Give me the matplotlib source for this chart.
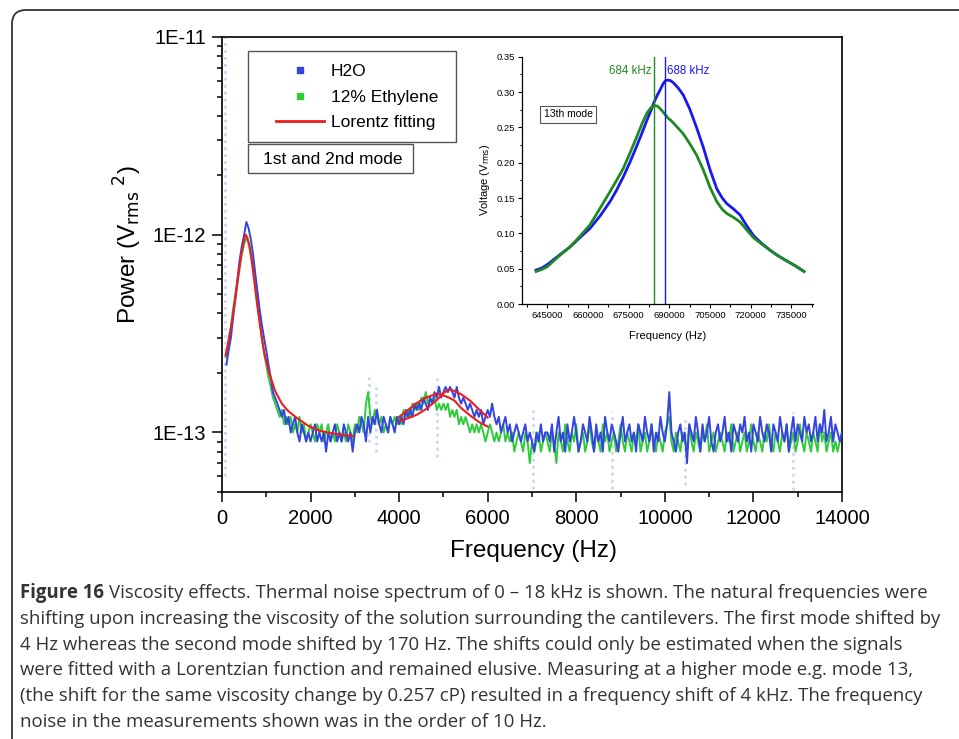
import numpy as np
import matplotlib
matplotlib.use("Agg")
import matplotlib.pyplot as plt
import matplotlib.ticker as ticker
from matplotlib.lines import Line2D
from matplotlib.patches import Rectangle, FancyBboxPatch
from matplotlib.transforms import IdentityTransform

plt.rcParams["font.family"] = ["Liberation Sans", "DejaVu Sans"]

W, H, DPI = 959, 739, 100
BLUE = "#3344e0"
GREEN = "#2ecc3a"
RED = "#ee1c1c"
FAINT = "#cdd6f0"
INS_BLUE = "#1818f0"
INS_GREEN = "#1f8a1f"

# ---- main spectrum (power in units of 1e-14 V^2), 50 Hz steps from 100 Hz ----
h2o = [
    22, 26, 30, 38, 48, 60, 75, 88, 100, 116, 108, 95, 80, 64, 52, 42, 35, 30, 26,
    22, 19, 16, 15, 14, 13, 12, 13, 11, 12, 10, 11, 12, 10, 9, 11, 10, 9, 10, 9,
    10, 11, 9, 10, 9, 10, 8, 10, 9, 10, 11, 9, 10, 9, 11, 10, 9, 10, 8, 10,
    11, 10, 12, 11, 9, 12, 10, 12, 11, 13, 11, 10, 12, 11, 10, 12, 11, 10, 12, 11,
    12, 11, 13, 12, 13, 12, 14, 13, 14, 13, 15, 14, 13, 15, 14, 16, 15, 17, 15, 16,
    17, 16, 17, 16, 15, 17, 15, 14, 15, 14, 13, 14, 13, 12, 13, 12, 13, 11, 12, 13,
    12, 14, 12, 11, 12, 10, 11, 12, 10, 11, 9, 10, 11, 10, 9, 10, 11, 9, 10, 9,
    8, 10, 9, 11, 9, 10,
    10, 9, 11, 8, 10, 12, 9, 10, 8, 11, 9, 10, 12, 10, 8, 9, 11, 10, 9, 12,
    10, 8, 11, 9, 10, 8, 12, 10, 9, 11, 10, 9, 8, 10, 12, 9, 10, 11, 9, 10,
    8, 11, 10, 9, 12, 10, 9, 11, 8, 10, 9, 12, 10, 9, 11, 16, 10, 9, 8, 10,
    11, 9, 10, 7, 11, 10, 9, 12, 10, 8, 11, 9, 10, 12, 9, 8, 10, 11, 9, 10,
    12, 9, 10, 8, 11, 10, 9, 11, 10, 12, 9, 10, 8, 11, 10, 9, 12, 10, 9, 11,
    10, 8, 11, 10, 9, 12, 10, 9, 11, 8, 10, 12, 9, 11, 10, 9, 12, 10, 11, 9,
    10, 12, 9, 11, 10, 13, 9, 10, 12, 9, 11, 10, 9, 10,
]
ethylene = [
    24, 30, 34, 42, 50, 58, 70, 80, 90, 96, 92, 82, 70, 56, 45, 37, 30, 25, 22,
    19, 17, 15, 14, 13, 12, 13, 11, 12, 11, 12, 10, 11, 10, 12, 10, 11, 9, 10, 11,
    10, 9, 11, 10, 11, 9, 10, 11, 9, 10, 9, 11, 10, 9, 10, 9, 11, 10, 9, 11,
    10, 12, 11, 10, 14, 16, 12, 11, 13, 12, 11, 12, 10, 11, 10, 12, 11, 12, 11, 12,
    11, 13, 12, 13, 12, 14, 13, 14, 13, 15, 14, 16, 14, 15, 14, 15, 13, 14, 13, 14,
    13, 14, 12, 13, 12, 13, 11, 12, 11, 12, 11, 10, 11, 10, 11, 10, 11, 10, 9, 10,
    11, 10, 9, 10, 9, 10, 11, 9, 10, 9, 10, 8, 9, 10, 9, 8, 10, 9, 7, 9,
    8, 9, 10, 8, 9, 10,
    9, 8, 10, 9, 7, 10, 9, 8, 11, 9, 8, 10, 9, 11, 8, 9, 10, 8, 9, 11,
    9, 8, 10, 9, 8, 11, 9, 10, 8, 9, 10, 8, 9, 11, 9, 8, 10, 9, 8, 10,
    9, 11, 8, 9, 10, 8, 9, 11, 9, 8, 10, 9, 8, 10, 11, 12, 9, 8, 10, 9,
    8, 10, 9, 8, 11, 9, 8, 10, 9, 8, 10, 9, 11, 8, 9, 10, 8, 9, 10, 9,
    8, 10, 9, 11, 8, 9, 10, 8, 9, 10, 8, 9, 11, 9, 8, 10, 9, 8, 10, 9,
    11, 9, 8, 10, 9, 8, 10, 9, 11, 8, 9, 10, 8, 9, 11, 9, 8, 10, 9, 8,
    10, 9, 8, 11, 9, 10, 8, 9, 10, 8, 9, 8, 9, 10,
]

# Lorentz fits (units 1e-14)
fit1_f = [80, 150, 220, 300, 370, 440, 500, 535, 570, 620, 670, 730, 790, 850, 900,
          960, 1050, 1200, 1350, 1500, 1700, 1950, 2200, 2500, 2750, 2965]
fit1_p = [24.5, 29, 36, 47, 62, 80, 95, 100, 97, 87, 74, 58, 45, 36, 30,
          25, 20.5, 16.2, 14, 12.8, 11.8, 10.8, 10.2, 9.9, 9.7, 9.6]
fit2_f = [4000, 4200, 4400, 4600, 4850, 5000, 5125, 5250, 5400, 5600, 5800, 6000]
fit2_eth = [12.0, 13.0, 14.1, 15.0, 15.7, 15.4, 15.0, 14.5, 13.3, 12.2, 11.3, 10.7]
fit2_h2o = [11.4, 11.8, 12.3, 13.1, 14.6, 15.8, 16.5, 16.2, 15.6, 14.5, 13.1, 11.9]

# faint outlier columns (Hz, low, high in 1e-14)
streak_f = [60, 3320, 3480, 4860, 7020, 8800, 10450, 12890]
streak_lo = [6, 9, 8, 7.5, 5.2, 5.2, 5.4, 5.1]
streak_hi = [1000, 19, 17, 19, 13.2, 12.7, 11.8, 12.7]

# ---- inset: 13th mode ----
ins_f = [640800, 643000, 645000, 649000, 653400, 657000, 660700, 664500, 668100, 670500,
         673000, 675500, 678000, 680000, 681700, 683200, 684400, 685600, 686700, 687600,
         688500, 689500, 690500, 691500, 693200, 695100, 697500, 700000, 702500, 705000,
         707500, 709500, 711200, 713500, 716100, 718500, 721000, 724000, 727200, 730200,
         733300, 736500, 739700]
ins_h2o = [0.048, 0.051, 0.056, 0.068, 0.081, 0.094, 0.107, 0.125, 0.145, 0.161,
           0.180, 0.201, 0.224, 0.243, 0.260, 0.274, 0.286, 0.296, 0.304, 0.311,
           0.316, 0.317, 0.316, 0.313, 0.306, 0.296, 0.276, 0.250, 0.222, 0.190,
           0.163, 0.150, 0.142, 0.135, 0.126, 0.111, 0.097, 0.086, 0.076, 0.068,
           0.061, 0.054, 0.046]
ins_eth = [0.046, 0.049, 0.053, 0.067, 0.081, 0.096, 0.112, 0.136, 0.159, 0.175,
           0.192, 0.214, 0.237, 0.256, 0.270, 0.278, 0.281, 0.280, 0.276, 0.272,
           0.268, 0.263, 0.260, 0.256, 0.249, 0.241, 0.227, 0.211, 0.190, 0.165,
           0.145, 0.134, 0.128, 0.123, 0.116, 0.105, 0.094, 0.085, 0.076, 0.068,
           0.061, 0.054, 0.046]
peak_eth, peak_h2o = 684400, 688500

caption = [
    "Viscosity effects. Thermal noise spectrum of 0 \u2013 18 kHz is shown. The natural frequencies were",
    "shifting upon increasing the viscosity of the solution surrounding the cantilevers. The first mode shifted by",
    "4 Hz whereas the second mode shifted by 170 Hz. The shifts could only be estimated when the signals",
    "were fitted with a Lorentzian function and remained elusive. Measuring at a higher mode e.g. mode 13,",
    "(the shift for the same viscosity change by 0.257 cP) resulted in a frequency shift of 4 kHz. The frequency",
    "noise in the measurements shown was in the order of 10 Hz.",
]


def fx(px):
    return px / W


def fy(py):
    return 1 - py / H


fig = plt.figure(figsize=(W / DPI, H / DPI), dpi=DPI)
fig.patch.set_facecolor("white")

# outer rounded frame
frame = FancyBboxPatch((12, -40), 1000, H - 10 + 40, boxstyle="round,pad=0,rounding_size=14",
                       transform=IdentityTransform(), fc="none", ec="#333333", lw=1.3)
fig.patches.append(frame)

# ---- main axes ----
ax = fig.add_axes([fx(222), fy(492), 620 / W, 455 / H])
scale = 1e-14
freq_h = 100 + 50 * np.arange(len(h2o))
freq_e = 100 + 50 * np.arange(len(ethylene))

ax.vlines(streak_f, np.array(streak_lo) * scale, np.array(streak_hi) * scale,
          colors=FAINT, lw=2.0, linestyles=(0, (1, 1.5)), zorder=1)
ax.plot(freq_e, np.array(ethylene) * scale, color=GREEN, lw=1.4, zorder=2)
ax.plot(freq_h, np.array(h2o) * scale, color=BLUE, lw=1.4, zorder=3)
ax.plot(fit1_f, np.array(fit1_p) * scale, color=RED, lw=1.5, zorder=4)
ax.plot(fit2_f, np.array(fit2_eth) * scale, color=RED, lw=1.5, zorder=4)
ax.plot(fit2_f, np.array(fit2_h2o) * scale, color=RED, lw=1.5, zorder=4)

ax.set_yscale("log")
ax.set_xlim(0, 14000)
ax.set_ylim(5e-14, 1e-11)
ax.set_xticks(np.arange(0, 14001, 2000))
ax.xaxis.set_minor_locator(ticker.MultipleLocator(1000))
ax.set_yticks([1e-13, 1e-12, 1e-11])
ax.yaxis.set_minor_locator(ticker.LogLocator(base=10, subs=np.arange(2, 10)))
ax.yaxis.set_minor_formatter(ticker.NullFormatter())
ax.yaxis.set_major_formatter(ticker.FuncFormatter(lambda v, p: "1E%d" % round(np.log10(v))))
ax.tick_params(which="major", direction="out", length=7.2, width=1.1, labelsize=14.5, pad=4.3)
ax.tick_params(which="minor", direction="out", length=3.6, width=1.1)
ax.tick_params(axis="x", which="major", pad=5)
for s in ax.spines.values():
    s.set_linewidth(1.2)

ax.set_xlabel("Frequency (Hz)", fontsize=17.5)
ax.xaxis.set_label_coords(0.502, -0.105)
ax.set_ylabel(r"Power (V$_{\rm rms}$$^{\ 2}$)", fontsize=17.5)
ax.yaxis.set_label_coords(-0.125, 0.543)

# legend
handles = [
    Line2D([], [], marker="s", ls="none", color=BLUE, ms=5),
    Line2D([], [], marker="s", ls="none", color=GREEN, ms=5),
    Line2D([], [], color=RED, lw=2),
]
leg = fig.legend(handles, ["H2O", "12% Ethylene", "Lorentz fitting"], loc="upper left",
                 bbox_to_anchor=(fx(276), fy(64)), bbox_transform=fig.transFigure,
                 frameon=False, fontsize=12.5, borderpad=0, borderaxespad=0,
                 handlelength=2.76, handletextpad=0.4, labelspacing=0.6)
fig.patches.append(Rectangle((fx(248), fy(142)), 208 / W, 91 / H, transform=fig.transFigure,
                             fc="none", ec="#555555", lw=1.0))
fig.patches.append(Rectangle((fx(248), fy(172.5)), 164.5 / W, 28.5 / H, transform=fig.transFigure,
                             fc="none", ec="#555555", lw=1.0))
fig.text(fx(333), fy(159), "1st and 2nd mode", fontsize=12.5, ha="center", va="center")

# ---- inset ----
axi = fig.add_axes([fx(521.7), fy(304), 291.3 / W, 247.3 / H])
axi.plot(ins_f, ins_h2o, color=INS_BLUE, lw=2.0)
axi.plot(ins_f, ins_eth, color=INS_GREEN, lw=2.0)
axi.axvline(peak_eth, color=INS_GREEN, lw=1.0)
axi.axvline(peak_h2o, color=INS_BLUE, lw=1.0)
axi.set_xlim(635500, 743000)
axi.set_ylim(0, 0.35)
axi.set_xticks(np.arange(645000, 735001, 15000))
axi.xaxis.set_minor_locator(ticker.MultipleLocator(7500))
axi.set_yticks(np.arange(0, 0.351, 0.05))
axi.yaxis.set_minor_locator(ticker.MultipleLocator(0.025))
axi.yaxis.set_major_formatter(ticker.FormatStrFormatter("%.2f"))
axi.tick_params(which="major", direction="out", length=3, width=0.8, labelsize=6.8, pad=2)
axi.tick_params(which="minor", direction="out", length=1.8, width=0.8)
axi.spines["top"].set_visible(False)
axi.spines["right"].set_visible(False)
for s in ("left", "bottom"):
    axi.spines[s].set_linewidth(0.9)
axi.set_xlabel("Frequency (Hz)", fontsize=8)
axi.xaxis.set_label_coords(0.5, -0.11)
axi.set_ylabel(r"Voltage (V$_{\rm rms}$)", fontsize=8)
axi.yaxis.set_label_coords(-0.102, 0.5)
axi.annotate("684 kHz", (peak_eth, 0.33), xytext=(-2, 0), textcoords="offset points",
             ha="right", va="center", color=INS_GREEN, fontsize=8.3)
axi.annotate("688 kHz", (peak_h2o, 0.33), xytext=(1.5, 0), textcoords="offset points",
             ha="left", va="center", color=INS_BLUE, fontsize=8.3)
axi.text(0.16, 0.7675, "13th mode", transform=axi.transAxes, ha="center", va="center",
         fontsize=7.5, bbox=dict(boxstyle="square,pad=0.35", fc="white", ec="#555555", lw=0.8))

# ---- caption ----
cap_font = ["Open Sans", "DejaVu Sans"]
cap_size = 13.4
y0, step = 593, 25.8
bold = fig.text(fx(20), fy(y0), "Figure 16", fontsize=cap_size, fontweight="bold",
                family=cap_font, color="#333333", va="center")
r = fig.canvas.get_renderer()
bw = bold.get_window_extent(r).width
fig.text(fx(20 + bw + 5), fy(y0), caption[0], fontsize=cap_size, family=cap_font,
         color="#333333", va="center")
for i, line in enumerate(caption[1:], start=1):
    fig.text(fx(20), fy(y0 + i * step), line, fontsize=cap_size, family=cap_font,
             color="#333333", va="center")

fig.savefig("out.png", dpi=DPI, facecolor="white")
